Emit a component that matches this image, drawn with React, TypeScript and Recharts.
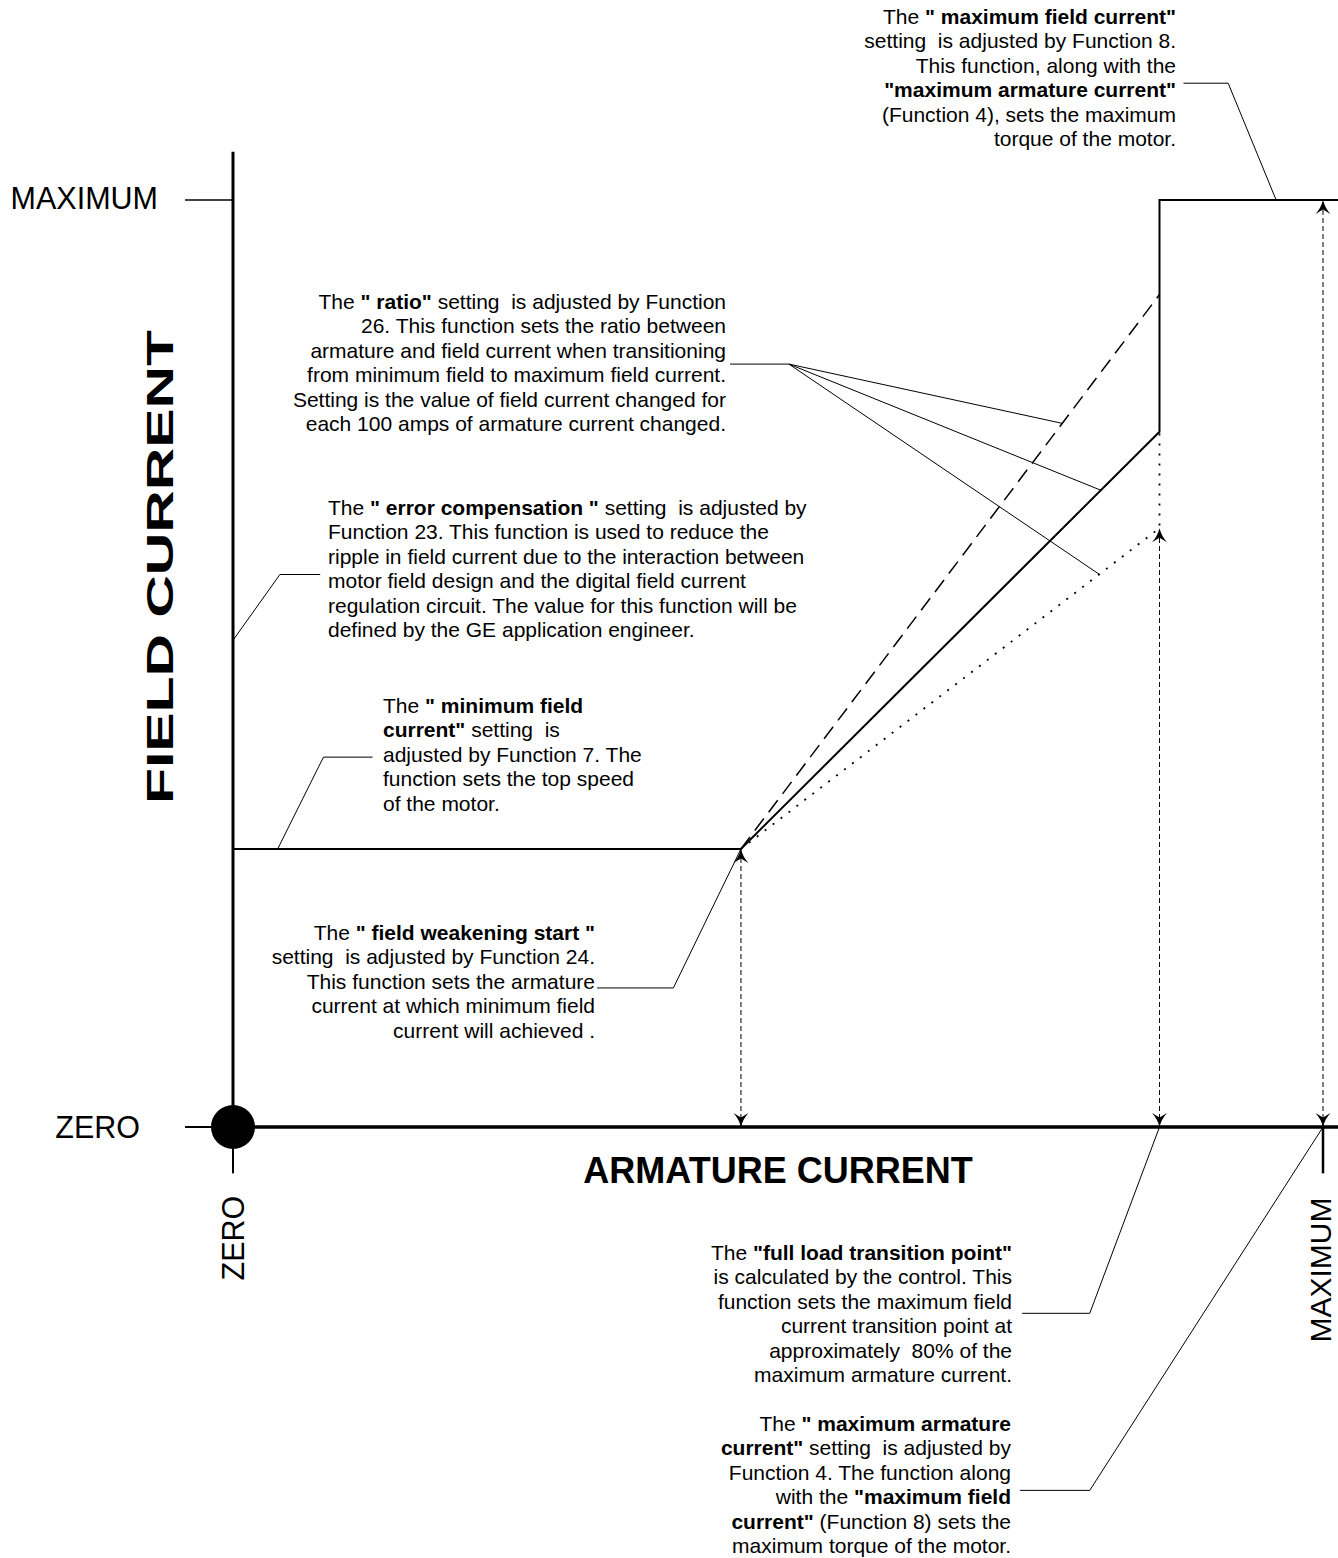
import { LineChart, Line, XAxis, YAxis, ReferenceLine, ReferenceDot } from "recharts";

const W = 1338;
const H = 1558;
// axes run 0..100 % of maximum; the domain is wider so the notes fit round the plot
const X_DOMAIN = [-21.376, 101.376];
const Y_DOMAIN = [-46.494, 121.575];

// field current (% of max) against armature current (% of max)
const curveArmature = [0, 46.6, 85, 85, 101.4];
const curveField = [30, 30, 75, 100, 100];
const steepArmature = [46.6, 85];
const steepField = [30, 89.8];
const shallowArmature = [46.6, 85, 85];
const shallowField = [30, 64.6, 75];
const markerArmature = [46.6, 85, 100];
const markerField = [30, 64.6, 100];

// leader lines from the notes to the curve, in chart units
const leaders = [
  [[87.2, 112.6], [91.3, 112.6], [95.7, 100]],
  [[45.6, 82.3], [51.0, 82.3], [76.1, 75.9]],
  [[51.0, 82.3], [79.6, 68.7]],
  [[51.0, 82.3], [79.5, 59.6]],
  [[8.0, 59.6], [4.3, 59.6], [0, 52.5]],
  [[12.8, 39.9], [8.3, 39.9], [4.1, 30]],
  [[33.4, 15.0], [40.4, 15.0], [46.6, 30]],
  [[72.4, -20.1], [78.6, -20.1], [85, 0]],
  [[72.2, -39.2], [78.6, -39.2], [100, 0]],
];

// text between * is bold
const notes = [
  {
    x: 1176, y: 16, anchor: "end",
    lines: [
      'The *" maximum field current"*',
      "setting  is adjusted by Function 8.",
      "This function, along with the",
      '*"maximum armature current"*',
      "(Function 4), sets the maximum",
      "torque of the motor.",
    ],
  },
  {
    x: 726, y: 301, anchor: "end",
    lines: [
      'The *" ratio"* setting  is adjusted by Function',
      "26. This function sets the ratio between",
      "armature and field current when transitioning",
      "from minimum field to maximum field current.",
      "Setting is the value of field current changed for",
      "each 100 amps of armature current changed.",
    ],
  },
  {
    x: 328, y: 507, anchor: "start",
    lines: [
      'The *" error compensation "* setting  is adjusted by',
      "Function 23. This function is used to reduce the",
      "ripple in field current due to the interaction between",
      "motor field design and the digital field current",
      "regulation circuit. The value for this function will be",
      "defined by the GE application engineer.",
    ],
  },
  {
    x: 383, y: 705, anchor: "start",
    lines: [
      'The *" minimum field*',
      '*current"* setting  is',
      "adjusted by Function 7. The",
      "function sets the top speed",
      "of the motor.",
    ],
  },
  {
    x: 595, y: 932, anchor: "end",
    lines: [
      'The *" field weakening start "*',
      "setting  is adjusted by Function 24.",
      "This function sets the armature",
      "current at which minimum field",
      "current will achieved .",
    ],
  },
  {
    x: 1012, y: 1252, anchor: "end",
    lines: [
      'The *"full load transition point"*',
      "is calculated by the control. This",
      "function sets the maximum field",
      "current transition point at",
      "approximately  80% of the",
      "maximum armature current.",
    ],
  },
  {
    x: 1011, y: 1423, anchor: "end",
    lines: [
      'The *" maximum armature*',
      '*current"* setting  is adjusted by',
      "Function 4. The function along",
      'with the *"maximum field*',
      '*current"* (Function 8) sets the',
      "maximum torque of the motor.",
    ],
  },
];

const zip = (xs: number[], ys: number[]) => xs.map((a, i) => ({ a, f: ys[i] }));

const FONT = "'Liberation Sans', Arial, Helvetica, sans-serif";
const LINE_H = 24.5;

const Arrow = (props: any) => {
  const { cx, cy, index } = props;
  if (cx == null || cy == null) return null;
  const rot = index === 0 ? 180 : 0;
  return (
    <path
      key={`arrow-${cx}-${cy}`}
      d="M0 0 Q2 8 7.5 14 L0 9.5 L-7.5 14 Q-2 8 0 0 Z"
      fill="#000"
      transform={`translate(${cx},${cy}) rotate(${rot})`}
    />
  );
};

const NoteText = ({ note }: { note: (typeof notes)[number] }) => (
  <text
    x={note.x}
    y={note.y}
    textAnchor={note.anchor as any}
    fontSize={21}
    fontFamily={FONT}
    fill="#000"
    style={{ whiteSpace: "pre" }}
  >
    {note.lines.map((line, i) => (
      <tspan key={i} x={note.x} y={note.y + i * LINE_H} dominantBaseline="central">
        {line.split("*").map((part, j) => (
          <tspan key={j} fontWeight={j % 2 === 1 ? "bold" : "normal"}>
            {part}
          </tspan>
        ))}
      </tspan>
    ))}
  </text>
);

export default function App() {
  return (
    <div style={{ position: "absolute", left: 0, top: 0, width: W, height: H, background: "#fff" }}>
      <LineChart width={W} height={H} margin={{ top: 0, right: 0, bottom: 0, left: 0 }}>
        <XAxis type="number" dataKey="a" domain={X_DOMAIN} allowDataOverflow hide />
        <YAxis type="number" dataKey="f" domain={Y_DOMAIN} allowDataOverflow hide />

        {/* axes */}
        <ReferenceLine segment={[{ x: 0, y: 0 }, { x: 0, y: 105.2 }]} stroke="#000" strokeWidth={3} />
        <ReferenceLine segment={[{ x: 0, y: -5.0 }, { x: 0, y: 0 }]} stroke="#000" strokeWidth={2} />
        <ReferenceLine segment={[{ x: 0, y: 0 }, { x: 101.376, y: 0 }]} stroke="#000" strokeWidth={3.5} />
        <ReferenceLine segment={[{ x: -4.4, y: 0 }, { x: 0, y: 0 }]} stroke="#000" strokeWidth={2} />
        <ReferenceLine segment={[{ x: -4.4, y: 100 }, { x: 0, y: 100 }]} stroke="#000" strokeWidth={1.5} />
        <ReferenceLine segment={[{ x: 100, y: -5.0 }, { x: 100, y: 0 }]} stroke="#000" strokeWidth={2.5} />

        {leaders.flatMap((pts, i) =>
          pts.slice(1).map((p, j) => (
            <ReferenceLine
              key={`l${i}-${j}`}
              segment={[{ x: pts[j][0], y: pts[j][1] }, { x: p[0], y: p[1] }]}
              stroke="#000"
              strokeWidth={1}
            />
          ))
        )}

        {markerArmature.map((a, i) => (
          <Line
            key={`m${i}`}
            data={zip([a, a], [0, markerField[i]])}
            dataKey="f"
            type="linear"
            stroke="#000"
            strokeWidth={1}
            strokeDasharray="5 3"
            dot={Arrow}
            activeDot={false}
            isAnimationActive={false}
          />
        ))}

        <Line
          data={zip(steepArmature, steepField)}
          dataKey="f"
          type="linear"
          stroke="#000"
          strokeWidth={1.5}
          strokeDasharray="15 8"
          dot={false}
          activeDot={false}
          isAnimationActive={false}
        />
        <Line
          data={zip(shallowArmature, shallowField)}
          dataKey="f"
          type="linear"
          stroke="#000"
          strokeWidth={1.8}
          strokeDasharray="2 8"
          dot={false}
          activeDot={false}
          isAnimationActive={false}
        />
        <Line
          data={zip(curveArmature, curveField)}
          dataKey="f"
          type="linear"
          stroke="#000"
          strokeWidth={2}
          dot={false}
          activeDot={false}
          isAnimationActive={false}
        />

        <ReferenceDot x={0} y={0} r={22} fill="#000" stroke="none" />
      </LineChart>

      <svg
        width={W}
        height={H}
        style={{ position: "absolute", left: 0, top: 0, pointerEvents: "none" }}
        fontFamily={FONT}
      >
        <text x={158} y={198} textAnchor="end" dominantBaseline="central" fontSize={30.5}>MAXIMUM</text>
        <text x={140} y={1127} textAnchor="end" dominantBaseline="central" fontSize={30.5}>ZERO</text>
        <text
          x={233} y={1238} textAnchor="middle" dominantBaseline="central" fontSize={30.5}
          transform="rotate(-90 233 1238)"
        >
          ZERO
        </text>
        <text
          x={1320} y={1270} textAnchor="middle" dominantBaseline="central" fontSize={30}
          transform="rotate(-90 1320 1270)"
        >
          MAXIMUM
        </text>
        <text x={778} y={1170} textAnchor="middle" dominantBaseline="central" fontSize={36} fontWeight="bold">
          ARMATURE CURRENT
        </text>
        <text
          x={160} y={567} textAnchor="middle" dominantBaseline="central" fontSize={37} fontWeight="bold"
          textLength={474}
          lengthAdjust="spacingAndGlyphs"
          transform="rotate(-90 160 567)"
        >
          FIELD CURRENT
        </text>
        {notes.map((n, i) => (
          <NoteText key={i} note={n} />
        ))}
      </svg>
    </div>
  );
}
